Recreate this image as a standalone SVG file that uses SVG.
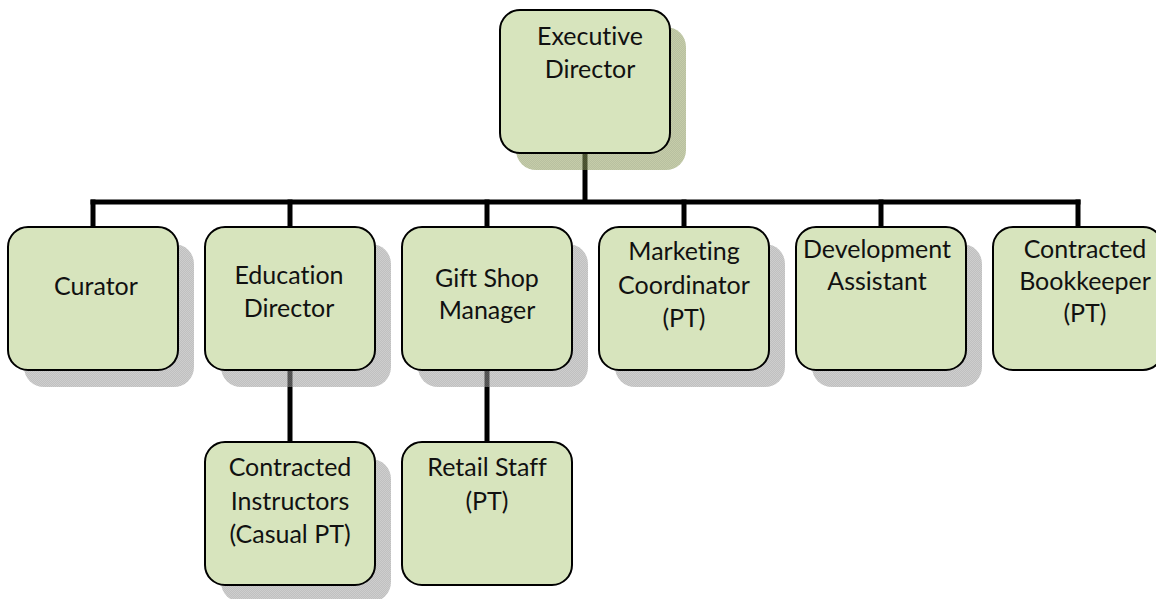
<svg xmlns="http://www.w3.org/2000/svg" width="1156" height="599" viewBox="0 0 1156 599">
  <defs>
    <!-- fine checker used for the drop shadows -->
    <pattern id="chkGray" width="2" height="2" patternUnits="userSpaceOnUse">
      <rect width="2" height="2" fill="#8c8c8c"/>
      <rect width="1" height="1" fill="#a6a6a6"/>
      <rect x="1" y="1" width="1" height="1" fill="#a6a6a6"/>
    </pattern>
    <pattern id="chkOlive" width="2" height="2" patternUnits="userSpaceOnUse">
      <rect width="2" height="2" fill="#7d8c52"/>
      <rect width="1" height="1" fill="#95a362"/>
      <rect x="1" y="1" width="1" height="1" fill="#95a362"/>
    </pattern>
    <style>
      .box { fill: #d7e4bd; stroke: #000; stroke-width: 2; }
      .shadow { fill: url(#chkGray); opacity: 0.55; }
      .shadow-olive { fill: url(#chkOlive); opacity: 0.55; }
      .lbl { font-family: Lato, "Open Sans", sans-serif; font-size: 25px; fill: #111; text-anchor: middle; font-variant-ligatures: none; }
      .wire { stroke: #000; stroke-width: 5; fill: none; stroke-linecap: square; }
    </style>
  </defs>

  <rect width="1156" height="599" fill="#fff"/>

  <!-- reporting lines -->
  <g id="connectors">
    <path class="wire" d="M585 153 V202 M93 202 H1078"/>
    <path class="wire" d="M93 202 V227 M290 202 V227 M487 202 V227 M684 202 V227 M881 202 V227 M1078 202 V227"/>
    <path class="wire" d="M290 370 V442 M487 370 V442"/>
  </g>

  <!-- drop shadows (semi-transparent so lines read through) -->
  <g id="shadows">
    <rect class="shadow-olive" x="516" y="27" width="170" height="143" rx="20"/>
    <rect class="shadow" x="24" y="244" width="170" height="143" rx="20"/>
    <rect class="shadow" x="221" y="244" width="170" height="143" rx="20"/>
    <rect class="shadow" x="418" y="244" width="170" height="143" rx="20"/>
    <rect class="shadow" x="615" y="244" width="170" height="143" rx="20"/>
    <rect class="shadow" x="812" y="244" width="170" height="143" rx="20"/>
    <rect class="shadow" x="221" y="459" width="170" height="143" rx="20"/>
  </g>

  <g id="executive-director">
    <rect class="box" x="500" y="10" width="170" height="143" rx="20"/>
    <text class="lbl" x="590" y="45">Executive</text>
    <text class="lbl" x="590" y="78">Director</text>
  </g>

  <g id="curator">
    <rect class="box" x="8" y="227" width="170" height="143" rx="20"/>
    <text class="lbl" x="96" y="295">Curator</text>
  </g>

  <g id="education-director">
    <rect class="box" x="205" y="227" width="170" height="143" rx="20"/>
    <text class="lbl" x="289" y="284">Education</text>
    <text class="lbl" x="289" y="317">Director</text>
  </g>

  <g id="gift-shop-manager">
    <rect class="box" x="402" y="227" width="170" height="143" rx="20"/>
    <text class="lbl" x="487" y="287">Gift Shop</text>
    <text class="lbl" x="487" y="319">Manager</text>
  </g>

  <g id="marketing-coordinator">
    <rect class="box" x="599" y="227" width="170" height="143" rx="20"/>
    <text class="lbl" x="684" y="260">Marketing</text>
    <text class="lbl" x="684" y="294">Coordinator</text>
    <text class="lbl" x="684" y="327">(PT)</text>
  </g>

  <g id="development-assistant">
    <rect class="box" x="796" y="227" width="170" height="143" rx="20"/>
    <text class="lbl" x="877" y="258">Development</text>
    <text class="lbl" x="877" y="290">Assistant</text>
  </g>

  <g id="contracted-bookkeeper">
    <rect class="box" x="993" y="227" width="170" height="143" rx="20"/>
    <text class="lbl" x="1085" y="258">Contracted</text>
    <text class="lbl" x="1085" y="290">Bookkeeper</text>
    <text class="lbl" x="1085" y="322">(PT)</text>
  </g>

  <g id="contracted-instructors">
    <rect class="box" x="205" y="442" width="170" height="143" rx="20"/>
    <text class="lbl" x="290" y="476">Contracted</text>
    <text class="lbl" x="290" y="510">Instructors</text>
    <text class="lbl" x="290" y="543">(Casual PT)</text>
  </g>

  <g id="retail-staff">
    <rect class="box" x="402" y="442" width="170" height="143" rx="20"/>
    <text class="lbl" x="487" y="476">Retail Staff</text>
    <text class="lbl" x="487" y="510">(PT)</text>
  </g>
</svg>
